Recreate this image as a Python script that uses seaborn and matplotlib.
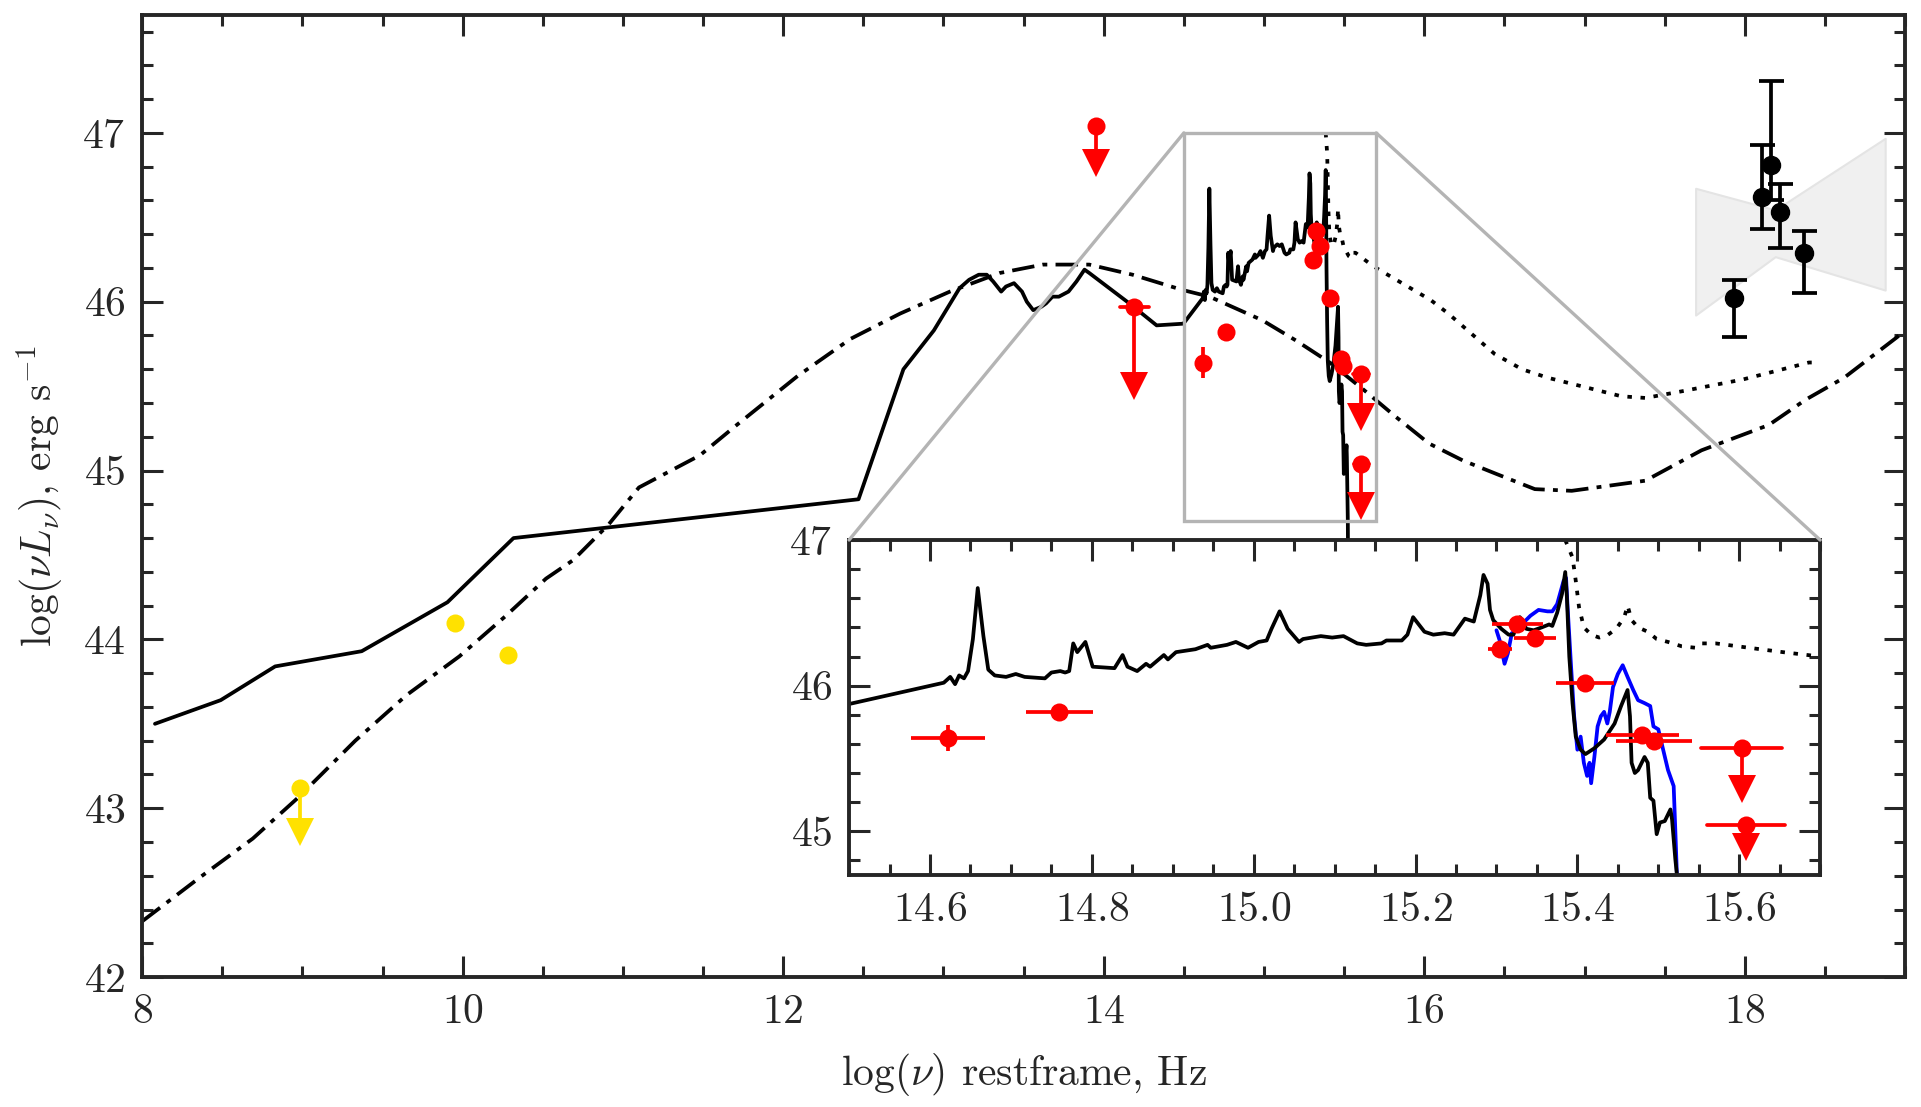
import matplotlib
matplotlib.use('agg')
import matplotlib.pyplot as plt
import seaborn as sns
import numpy as np
from matplotlib.ticker import MultipleLocator
from matplotlib.patches import Rectangle, ConnectionPatch

# ---- data ----
# host-galaxy + AGN template (solid), incl. the optical/UV spectrum
solid_x = [8.08, 8.49, 8.83, 9.37, 9.905, 10.317, 12.47, 12.75, 12.94, 13.10, 13.16, 13.22,
           13.27, 13.31, 13.36, 13.39, 13.44, 13.49, 13.52, 13.56, 13.61, 13.64, 13.68, 13.72,
           13.78, 13.83, 13.88, 13.91, 14.16, 14.33, 14.497,
           14.617, 14.625, 14.631, 14.636, 14.642, 14.647, 14.653, 14.659, 14.666, 14.672,
           14.680, 14.694, 14.706, 14.717, 14.742, 14.750, 14.761, 14.767, 14.772, 14.777,
           14.782, 14.792, 14.801, 14.828, 14.838, 14.844, 14.856, 14.867, 14.872, 14.889,
           14.894, 14.904, 14.928, 14.943, 14.947, 14.967, 14.978, 14.993, 15.006, 15.016,
           15.022, 15.032, 15.042, 15.056, 15.061, 15.083, 15.097, 15.111, 15.128, 15.139,
           15.158, 15.164, 15.183, 15.190, 15.197, 15.211, 15.222, 15.236, 15.247, 15.261,
           15.272, 15.280, 15.284, 15.289, 15.292, 15.296, 15.306, 15.315, 15.321, 15.329,
           15.337, 15.346, 15.356, 15.365, 15.369, 15.375, 15.381, 15.385, 15.387, 15.390,
           15.394, 15.398, 15.404, 15.410, 15.421, 15.433, 15.446, 15.454, 15.462, 15.465,
           15.467, 15.471, 15.475, 15.483, 15.487, 15.490, 15.494, 15.498, 15.502, 15.508,
           15.515, 15.517, 15.521, 15.523, 15.527]
solid_y = [43.50, 43.64, 43.84, 43.93, 44.22, 44.60, 44.83, 45.60, 45.83, 46.08, 46.13, 46.16,
           46.16, 46.12, 46.06, 46.09, 46.11, 46.06, 46.00, 45.95, 45.97, 45.99, 46.03, 46.03,
           46.06, 46.12, 46.19, 46.17, 45.99, 45.86, 45.87,
           46.02, 46.06, 46.01, 46.07, 46.05, 46.10, 46.32, 46.67, 46.34, 46.11,
           46.07, 46.06, 46.08, 46.06, 46.05, 46.09, 46.10, 46.09, 46.10, 46.29,
           46.23, 46.30, 46.13, 46.12, 46.21, 46.13, 46.10, 46.15, 46.13, 46.21,
           46.18, 46.23, 46.25, 46.28, 46.26, 46.28, 46.30, 46.26, 46.30, 46.31,
           46.39, 46.51, 46.39, 46.30, 46.32, 46.34, 46.33, 46.34, 46.29, 46.28,
           46.29, 46.31, 46.31, 46.35, 46.47, 46.37, 46.35, 46.36, 46.35, 46.46,
           46.44, 46.62, 46.76, 46.70, 46.52, 46.45, 46.39, 46.35, 46.35, 46.47,
           46.39, 46.38, 46.40, 46.42, 46.41, 46.50, 46.63, 46.78, 46.61, 46.20,
           45.88, 45.65, 45.56, 45.53, 45.57, 45.63, 45.74, 45.86, 45.97, 45.79,
           45.47, 45.40, 45.42, 45.51, 45.47, 45.23, 45.21, 44.98, 45.06, 45.07,
           45.15, 45.08, 44.81, 44.70, 44.0]

# second spectrum (blue, inset only)
blue_x = [15.300, 15.304, 15.310, 15.314, 15.319, 15.325, 15.333, 15.342, 15.352, 15.363,
          15.369, 15.375, 15.383, 15.386, 15.388, 15.392, 15.396, 15.400, 15.404, 15.408,
          15.412, 15.415, 15.417, 15.421, 15.425, 15.429, 15.433, 15.437, 15.440, 15.444,
          15.450, 15.456, 15.462, 15.469, 15.475, 15.483, 15.490, 15.494, 15.500, 15.506,
          15.512, 15.519, 15.521, 15.523]
blue_y = [46.38, 46.31, 46.15, 46.22, 46.36, 46.38, 46.43, 46.48, 46.52, 46.51,
          46.51, 46.56, 46.72, 46.74, 46.53, 46.15, 45.79, 45.56, 45.65, 45.47,
          45.38, 45.47, 45.33, 45.51, 45.72, 45.79, 45.82, 45.74, 45.82, 45.99,
          46.08, 46.14, 46.06, 45.97, 45.90, 45.88, 45.86, 45.72, 45.70, 45.56,
          45.42, 45.31, 45.01, 44.70]

# dotted model
dot_x = [15.385, 15.394, 15.398, 15.402, 15.408, 15.417, 15.427, 15.438, 15.448, 15.458,
         15.462, 15.467, 15.475, 15.487, 15.498, 15.512, 15.529, 15.546, 15.554, 15.571,
         15.612, 15.654, 15.70, 16.04, 16.15, 16.44, 16.61, 16.77, 17.23, 17.38, 17.61,
         17.99, 18.40, 18.45]
dot_y = [47.0, 46.88, 46.72, 46.54, 46.40, 46.35, 46.33, 46.35, 46.39, 46.47,
         46.55, 46.45, 46.40, 46.37, 46.32, 46.30, 46.27, 46.26, 46.29, 46.29,
         46.26, 46.23, 46.20, 46.01, 45.93, 45.69, 45.60, 45.55, 45.44, 45.43, 45.47,
         45.54, 45.64, 45.64]

# dash-dot model
dd_x = [8.0, 8.36, 8.69, 8.97, 9.33, 9.65, 9.98, 10.27, 10.52, 10.69, 10.91, 11.10, 11.48,
        11.71, 12.09, 12.42, 12.73, 13.04, 13.35, 13.62, 13.91, 14.18, 14.49, 14.66, 14.99,
        15.20, 15.41, 15.62, 15.82, 16.03, 16.24, 16.45, 16.69, 16.92, 17.38, 17.73, 18.15,
        18.38, 18.62, 18.95, 19.0]
dd_y = [42.33, 42.59, 42.82, 43.06, 43.40, 43.67, 43.90, 44.14, 44.36, 44.47, 44.68, 44.90,
        45.09, 45.27, 45.56, 45.78, 45.93, 46.06, 46.17, 46.22, 46.22, 46.16, 46.07, 46.03,
        45.89, 45.77, 45.64, 45.48, 45.32, 45.16, 45.06, 44.98, 44.89, 44.88, 44.94, 45.12,
        45.27, 45.42, 45.55, 45.79, 45.83]

# red photometry (detections)
red_x = [14.622, 14.760, 15.304, 15.326, 15.348, 15.409, 15.480, 15.495]
red_y = [45.64, 45.82, 46.25, 46.42, 46.33, 46.02, 45.66, 45.62]
red_xerr = [0.046, 0.041, 0.015, 0.032, 0.026, 0.036, 0.045, 0.047]
red_yerr = [0.09, 0, 0, 0, 0, 0, 0, 0]

# red upper limits
rlim_x = [13.954, 14.19, 15.603, 15.608]
rlim_y = [47.04, 45.97, 45.57, 45.04]
rlim_xerr = [0, 0.09, 0.05, 0.048]
rlim_len = [0.22, 0.47, 0.25, 0.25]
rlim_len_inset = [0.22, 0.47, 0.28, 0.15]

# radio (yellow)
yel_x = [9.95, 10.28]
yel_y = [44.10, 43.91]
ylim_x = [8.984]
ylim_y = [43.12]
ylim_len = [0.26]

# X-ray points (black), asymmetric errors
xr_x = [17.932, 18.108, 18.164, 18.218, 18.367]
xr_y = [46.02, 46.62, 46.81, 46.53, 46.29]
xr_lo = [0.23, 0.19, 0.21, 0.21, 0.24]
xr_hi = [0.11, 0.31, 0.50, 0.17, 0.13]

# X-ray bow tie
bow_x = [17.693, 18.19, 18.876]
bow_hi = [46.672, 46.544, 46.968]
bow_lo = [45.921, 46.267, 46.069]

# zoom window
zoom_x = (14.5, 15.7)
zoom_y = (44.7, 47.0)

# ---- style ----
sns.set_style('ticks')
plt.rcParams['font.family'] = ['cmr10']
plt.rcParams['mathtext.fontset'] = 'cm'
plt.rcParams['axes.formatter.use_mathtext'] = True
plt.rcParams['axes.unicode_minus'] = False

RED = '#ff0000'
YEL = '#ffe100'
LW = 2.7
MS = 13
DD = (0, (6, 2.2, 1.3, 2.2))
DOT = (0, (1.2, 2.3))

fig = plt.figure(figsize=(19.21, 11.07), dpi=100)
ax = fig.add_axes([0.074, 0.1174, 0.9177, 0.8693])
axins = fig.add_axes([0.442, 0.2096, 0.5055, 0.3026])


def draw_limits(a, x, y, xerr, length, color, ms):
    for xi, yi, xe, ln in zip(x, y, xerr, length):
        a.plot([xi, xi], [yi, yi - ln], color=color, lw=LW, zorder=4, solid_capstyle='butt')
        if xe > 0:
            a.plot([xi - xe, xi + xe], [yi, yi], color=color, lw=LW, zorder=4)
    a.plot(x, np.array(y) - np.array(length), 'v', color=color, ms=ms + 7, mew=0, zorder=4)
    a.plot(x, y, 'o', color=color, ms=ms, mew=0, zorder=5)


def draw_models(a, inset=False):
    if not inset:
        sns.lineplot(x=dd_x, y=dd_y, ax=a, color='k', lw=LW, linestyle=DD, sort=False,
                     estimator=None, zorder=2)
    sns.lineplot(x=dot_x, y=dot_y, ax=a, color='k', lw=LW, linestyle=DOT, sort=False,
                 estimator=None, zorder=2)
    if inset:
        sns.lineplot(x=blue_x, y=blue_y, ax=a, color='#0000ff', lw=LW, sort=False,
                     estimator=None, zorder=2)
    sns.lineplot(x=solid_x, y=solid_y, ax=a, color='k', lw=LW, sort=False, estimator=None, zorder=3)
    a.errorbar(red_x, red_y, xerr=red_xerr, yerr=red_yerr, fmt='o', color=RED, ms=MS,
               mew=0, elinewidth=LW, capsize=0, zorder=5)


# ---- main panel ----
ax.fill_between(bow_x, bow_lo, bow_hi, facecolor='#f0f0f0', edgecolor='#e4e4e4', lw=1.5, zorder=1)
draw_models(ax)
draw_limits(ax, rlim_x, rlim_y, rlim_xerr, rlim_len, RED, MS)
sns.scatterplot(x=yel_x, y=yel_y, ax=ax, color=YEL, s=MS ** 2, linewidth=0, zorder=5)
draw_limits(ax, ylim_x, ylim_y, [0], ylim_len, YEL, MS)
ax.errorbar(xr_x, xr_y, yerr=[xr_lo, xr_hi], fmt='o', color='k', ms=MS,
            elinewidth=LW, capsize=9, capthick=LW, zorder=5)

ax.add_patch(Rectangle((zoom_x[0], zoom_y[0]), zoom_x[1] - zoom_x[0], zoom_y[1] - zoom_y[0],
                       fill=False, edgecolor='#b4b4b4', lw=2.4, zorder=6))

ax.set_xlim(8, 19)
ax.set_ylim(42, 47.7)
ax.xaxis.set_major_locator(MultipleLocator(2))
ax.xaxis.set_minor_locator(MultipleLocator(0.5))
ax.yaxis.set_major_locator(MultipleLocator(1))
ax.yaxis.set_minor_locator(MultipleLocator(0.2))
ax.set_xlabel(r'$\log(\nu)$ restframe, Hz', fontsize=30, labelpad=14)
ax.set_ylabel(r'$\log(\nu L_\nu)$, erg s$^{-1}$', fontsize=30, labelpad=12)

# ---- inset ----
axins.set_facecolor('white')
draw_models(axins, inset=True)
draw_limits(axins, rlim_x, rlim_y, rlim_xerr, rlim_len_inset, RED, MS)
axins.set_xlim(*zoom_x)
axins.set_ylim(*zoom_y)
axins.xaxis.set_major_locator(MultipleLocator(0.2))
axins.xaxis.set_minor_locator(MultipleLocator(0.05))
axins.yaxis.set_major_locator(MultipleLocator(1))
axins.yaxis.set_minor_locator(MultipleLocator(0.2))

for a in (ax, axins):
    a.tick_params(which='both', direction='in', top=True, right=True, width=2.2,
                  labelsize=30, pad=12)
    a.tick_params(which='major', length=15)
    a.tick_params(which='minor', length=8)
    for s in a.spines.values():
        s.set_linewidth(2.8)
        s.set_zorder(10)

for xc in zoom_x:
    con = ConnectionPatch(xyA=(xc, zoom_y[1]), coordsA=axins.transData,
                          xyB=(xc, zoom_y[1]), coordsB=ax.transData,
                          color='#b4b4b4', lw=2.4, zorder=6)
    fig.add_artist(con)

fig.savefig('out.png', dpi=100)
